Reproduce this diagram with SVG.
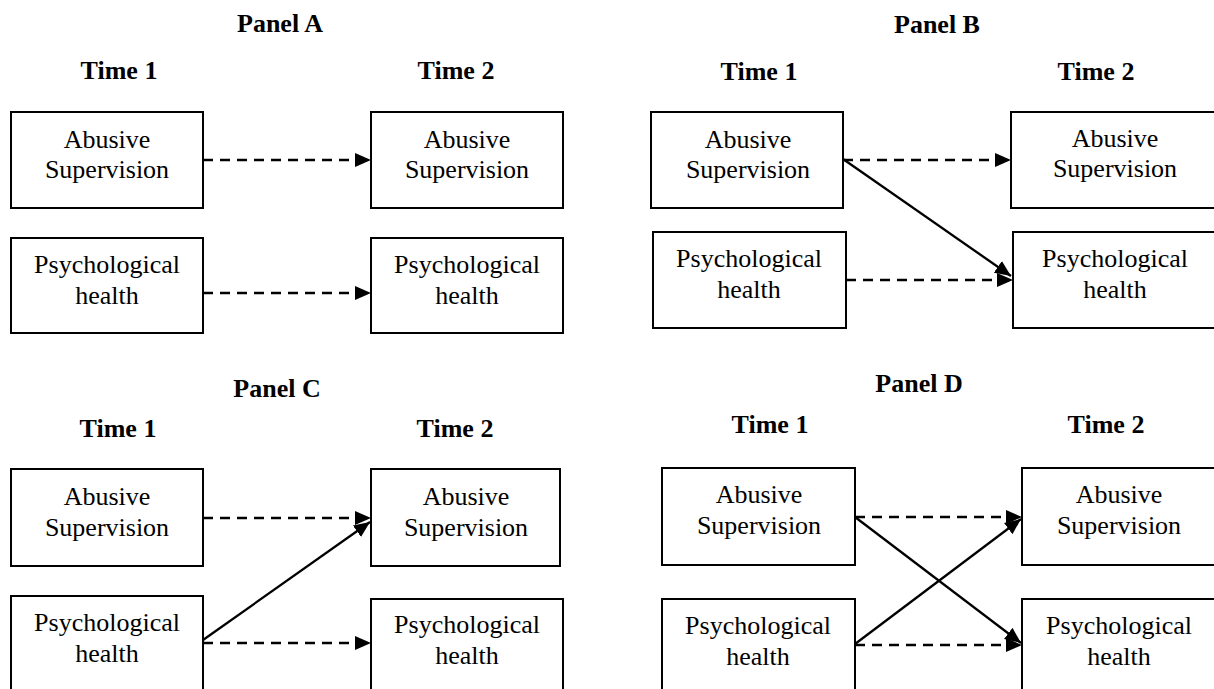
<svg xmlns="http://www.w3.org/2000/svg" width="1214" height="689" viewBox="0 0 1214 689">
<style>
.box{fill:#fff;stroke:#000;stroke-width:2}
.t{font-family:"Liberation Serif","Times New Roman",serif;font-size:26px;fill:#000;text-anchor:middle}
.h{font-family:"Liberation Serif","Times New Roman",serif;font-size:26px;font-weight:bold;fill:#000;text-anchor:middle}
.d{stroke:#000;stroke-width:2.3;fill:none;stroke-dasharray:10 7;marker-end:url(#ah)}
.s{stroke:#000;stroke-width:2.3;fill:none;marker-end:url(#ah)}
</style>
<defs>
<marker id="ah" markerUnits="userSpaceOnUse" markerWidth="17" markerHeight="15" refX="16" refY="7.5" orient="auto">
<path d="M0,0.5 L16,7.5 L0,14.5 z" fill="#000"/>
</marker>
</defs>
<rect width="1214" height="689" fill="#fff"/>
<g id="headers">
<text class="h" x="280" y="32">Panel A</text>
<text class="h" x="119" y="79">Time 1</text>
<text class="h" x="456" y="79">Time 2</text>
<text class="h" x="937" y="33">Panel B</text>
<text class="h" x="759" y="80">Time 1</text>
<text class="h" x="1096" y="80">Time 2</text>
<text class="h" x="277" y="397">Panel C</text>
<text class="h" x="118" y="437">Time 1</text>
<text class="h" x="455" y="437">Time 2</text>
<text class="h" x="919" y="392">Panel D</text>
<text class="h" x="770" y="433">Time 1</text>
<text class="h" x="1106" y="433">Time 2</text>
</g>
<g id="connectors">
<line class="d" x1="203" y1="160" x2="371" y2="160"/>
<line class="d" x1="203" y1="293" x2="371" y2="293"/>
<line class="d" x1="843" y1="160" x2="1011" y2="160"/>
<line class="d" x1="846" y1="280" x2="1013" y2="280"/>
<line class="s" x1="843" y1="159" x2="1011" y2="276"/>
<line class="d" x1="203" y1="518" x2="371" y2="518"/>
<line class="d" x1="203" y1="643" x2="371" y2="643"/>
<line class="s" x1="203" y1="640" x2="370" y2="522"/>
<line class="d" x1="855" y1="517" x2="1022" y2="517"/>
<line class="d" x1="855" y1="645" x2="1022" y2="645"/>
<line class="s" x1="855" y1="517" x2="1021" y2="643"/>
<line class="s" x1="855" y1="644" x2="1021" y2="519"/>
</g>
<g id="A_abuse_t1"><rect class="box" x="11" y="112" width="192" height="96"/><text class="t" x="107" y="148">Abusive</text><text class="t" x="107" y="178">Supervision</text></g>
<g id="A_psych_t1"><rect class="box" x="11" y="238" width="192" height="95"/><text class="t" x="107" y="273">Psychological</text><text class="t" x="107" y="304">health</text></g>
<g id="A_abuse_t2"><rect class="box" x="371" y="112" width="192" height="96"/><text class="t" x="467" y="148">Abusive</text><text class="t" x="467" y="178">Supervision</text></g>
<g id="A_psych_t2"><rect class="box" x="371" y="238" width="192" height="95"/><text class="t" x="467" y="273">Psychological</text><text class="t" x="467" y="304">health</text></g>
<g id="B_abuse_t1"><rect class="box" x="651" y="112" width="192" height="96"/><text class="t" x="748" y="148">Abusive</text><text class="t" x="748" y="178">Supervision</text></g>
<g id="B_psych_t1"><rect class="box" x="653" y="232" width="193" height="96"/><text class="t" x="749" y="267">Psychological</text><text class="t" x="749" y="298">health</text></g>
<g id="B_abuse_t2"><rect class="box" x="1011" y="112" width="212" height="96"/><text class="t" x="1115" y="147">Abusive</text><text class="t" x="1115" y="177">Supervision</text></g>
<g id="B_psych_t2"><rect class="box" x="1013" y="232" width="210" height="96"/><text class="t" x="1115" y="267">Psychological</text><text class="t" x="1115" y="298">health</text></g>
<g id="C_abuse_t1"><rect class="box" x="11" y="469" width="192" height="97"/><text class="t" x="107" y="505">Abusive</text><text class="t" x="107" y="536">Supervision</text></g>
<g id="C_psych_t1"><rect class="box" x="11" y="596" width="192" height="110"/><text class="t" x="107" y="631">Psychological</text><text class="t" x="107" y="662">health</text></g>
<g id="C_abuse_t2"><rect class="box" x="371" y="469" width="189" height="97"/><text class="t" x="466" y="505">Abusive</text><text class="t" x="466" y="536">Supervision</text></g>
<g id="C_psych_t2"><rect class="box" x="371" y="599" width="192" height="110"/><text class="t" x="467" y="633">Psychological</text><text class="t" x="467" y="664">health</text></g>
<g id="D_abuse_t1"><rect class="box" x="662" y="468" width="193" height="97"/><text class="t" x="759" y="503">Abusive</text><text class="t" x="759" y="534">Supervision</text></g>
<g id="D_psych_t1"><rect class="box" x="662" y="599" width="193" height="110"/><text class="t" x="758" y="634">Psychological</text><text class="t" x="758" y="665">health</text></g>
<g id="D_abuse_t2"><rect class="box" x="1022" y="468" width="200" height="97"/><text class="t" x="1119" y="503">Abusive</text><text class="t" x="1119" y="534">Supervision</text></g>
<g id="D_psych_t2"><rect class="box" x="1022" y="599" width="200" height="110"/><text class="t" x="1119" y="634">Psychological</text><text class="t" x="1119" y="665">health</text></g>
</svg>
